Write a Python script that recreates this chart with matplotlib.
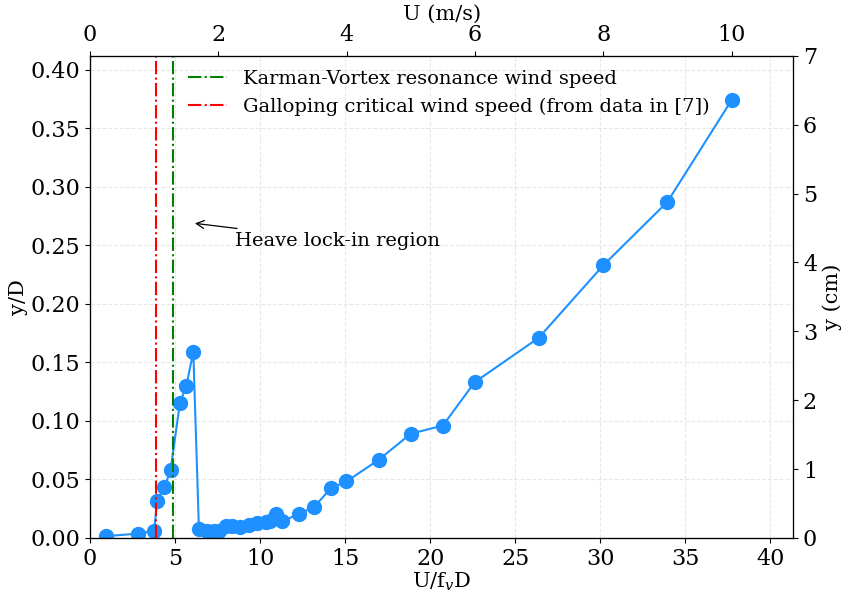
import numpy as np
import matplotlib
matplotlib.use("Agg")
import matplotlib.pyplot as plt

plt.rcParams['font.family'] = 'DejaVu Serif'
plt.rcParams['mathtext.fontset'] = 'dejavuserif'
plt.rcParams['font.size'] = 14
plt.rcParams['xtick.labelsize'] = 16
plt.rcParams['ytick.labelsize'] = 16
plt.rcParams['axes.labelsize'] = 15

# reduced velocity U/(f_v D) and amplitude y/D
u_red = [0.92, 2.82, 3.77, 3.94, 4.37, 4.73, 5.28, 5.66, 6.07, 6.40,
         6.88, 7.27, 7.56, 8.0, 8.35, 8.84, 9.33, 9.83, 10.32, 10.6,
         10.91, 11.3, 12.28, 13.17, 14.16, 15.08, 16.99, 18.86, 20.75,
         22.62, 26.39, 30.19, 33.95, 37.73]
y_d = [0.0014, 0.0037, 0.006, 0.0317, 0.0434, 0.0577, 0.115, 0.130, 0.159, 0.0077,
       0.0063, 0.0057, 0.0063, 0.0105, 0.0105, 0.0097, 0.0111, 0.0129, 0.0134, 0.014,
       0.0206, 0.014, 0.0206, 0.0263, 0.0425, 0.0482, 0.0669, 0.089, 0.096,
       0.133, 0.171, 0.233, 0.287, 0.374]

x_karman = 4.85
x_galloping = 3.88
u_scale = 3.773   # U/(f_v D) per m/s
D_cm = 17.0

fig = plt.figure(figsize=(8.42, 5.95), dpi=100)
ax = fig.add_axes([0.107, 0.096, 0.835, 0.81])

ax.plot(u_red, y_d, '-o', color='dodgerblue', markersize=10, linewidth=1.5)
ax.axvline(x_karman, color='green', linestyle='-.', linewidth=1.5,
           label='Karman-Vortex resonance wind speed')
ax.axvline(x_galloping, color='red', linestyle='-.', linewidth=1.5,
           label='Galloping critical wind speed (from data in [7])')

ax.annotate('Heave lock-in region', xy=(6.0, 0.269), xytext=(8.5, 0.254),
            va='center', ha='left',
            arrowprops=dict(arrowstyle='->', color='black', lw=0.9))

xmax = 41.35
ymax = 7.0 / D_cm
ax.set_xlim(0, xmax)
ax.set_ylim(0, ymax)
ax.set_xticks(np.arange(0, 41, 5))
ax.set_yticks(np.arange(0, 0.41, 0.05))
ax.set_xlabel('U/f$_v$D', labelpad=1)
ax.set_ylabel('y/D', labelpad=2)
ax.grid(True, linestyle='--', color='lightgray', alpha=0.5, linewidth=0.8)
ax.legend(loc='upper left', bbox_to_anchor=(0.12, 1.0), frameon=False,
          handlelength=2.0, borderaxespad=0.3)

ax_top = ax.twiny()
ax_top.set_xlim(0, xmax / u_scale)
ax_top.set_xticks(np.arange(0, 11, 2))
ax_top.set_xlabel('U (m/s)', labelpad=3)

ax_right = ax.twinx()
ax_right.set_ylim(0, 7)
ax_right.set_yticks(np.arange(0, 8, 1))
ax_right.set_ylabel('y (cm)', labelpad=4)

fig.savefig('out.png', dpi=100)
